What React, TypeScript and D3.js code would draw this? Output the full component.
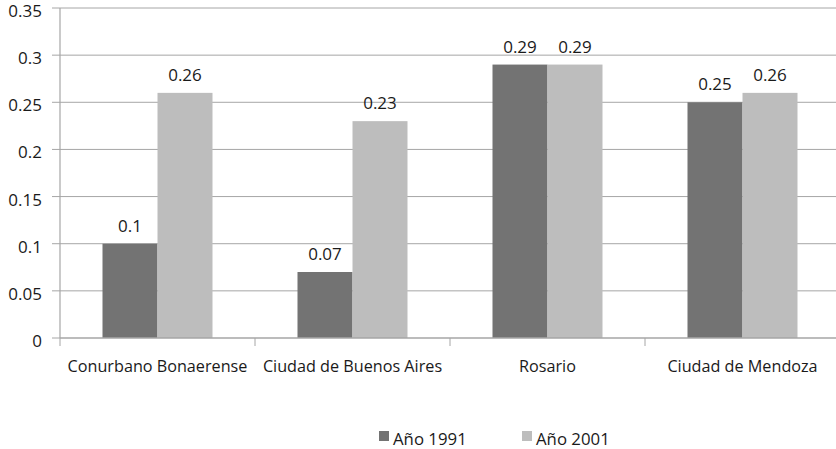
import React from "react";
import * as d3 from "d3";

const categories = ["Conurbano Bonaerense", "Ciudad de Buenos Aires", "Rosario", "Ciudad de Mendoza"];
const seriesNames = ["Año 1991", "Año 2001"];
const values1991 = [0.1, 0.07, 0.29, 0.25];
const values2001 = [0.26, 0.23, 0.29, 0.26];
const yTicks = [0, 0.05, 0.1, 0.15, 0.2, 0.25, 0.3, 0.35];
const colors = ["#737373", "#bdbdbd"];

const W = 836;
const H = 449;
const FONT = "'Open Sans', sans-serif";

export default function App() {
  const left = 60;
  const right = 840;
  const top = 8;
  const bottom = 338;

  const x = d3.scaleBand<string>().domain(categories).range([left, right]).paddingInner(0).paddingOuter(0);
  const groupW = 110;
  const xs = d3.scaleBand<string>().domain(seriesNames).range([0, groupW]);
  const y = d3.scaleLinear().domain([0, 0.35]).range([bottom, top]);
  const series = [values1991, values2001];
  const bw = x.bandwidth();
  const fmt = (v: number) => String(+v.toFixed(2));

  return (
    <svg width={W} height={H} style={{ position: "absolute", left: 0, top: 0, background: "#fff" }} fontFamily={FONT}>
      {/* gridlines */}
      {yTicks.map((t) => (
        <g key={t}>
          {t > 0 && <line x1={left} x2={W} y1={y(t)} y2={y(t)} stroke="#a6a6a6" strokeWidth={1} />}
          <line x1={left - 8} x2={left} y1={y(t)} y2={y(t)} stroke="#a6a6a6" strokeWidth={1} />
          <text x={42} y={y(t) + 9} textAnchor="end" fontSize={17} fill="#1a1a1a">
            {fmt(t)}
          </text>
        </g>
      ))}
      {/* bars */}
      {categories.map((c, i) => {
        const gx = (x(c) as number) + (bw - groupW) / 2;
        return (
          <g key={c}>
            {series.map((vals, s) => {
              const bx = gx + (xs(seriesNames[s]) as number);
              const v = vals[i];
              return (
                <g key={s}>
                  <rect x={bx} y={y(v)} width={xs.bandwidth()} height={y(0) - y(v)} fill={colors[s]} />
                  <text x={bx + xs.bandwidth() / 2} y={y(v) - 12} textAnchor="middle" fontSize={17} fill="#1a1a1a">
                    {fmt(v)}
                  </text>
                </g>
              );
            })}
          </g>
        );
      })}
      {/* axes */}
      <line x1={left} x2={left} y1={top} y2={bottom} stroke="#a6a6a6" strokeWidth={1.2} />
      <line x1={left} x2={W} y1={bottom} y2={bottom} stroke="#a6a6a6" strokeWidth={1.5} />
      {categories.map((c, i) => (
        <g key={c}>
          <line x1={(x(c) as number) + bw} x2={(x(c) as number) + bw} y1={bottom} y2={bottom + 8} stroke="#a6a6a6" />
          {i === 0 && <line x1={left} x2={left} y1={bottom} y2={bottom + 8} stroke="#a6a6a6" />}
          <text x={(x(c) as number) + bw / 2} y={372} textAnchor="middle" fontSize={16.2} fill="#1a1a1a">
            {c}
          </text>
        </g>
      ))}
      {/* legend */}
      {seriesNames.map((n, i) => {
        const lx = [379, 522][i];
        return (
          <g key={n}>
            <rect x={lx} y={431} width={10} height={10} fill={colors[i]} />
            <text x={lx + 14} y={445} fontSize={16.8} fill="#1a1a1a">
              {n}
            </text>
          </g>
        );
      })}
    </svg>
  );
}
